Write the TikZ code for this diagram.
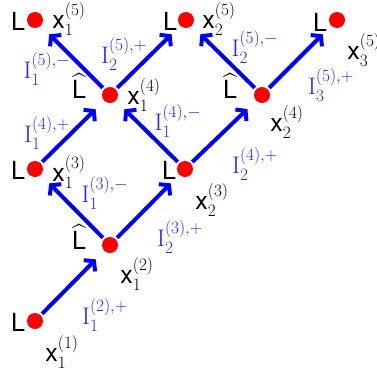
\documentclass[tikz,border=0pt]{standalone}
\usepackage{amsmath}
\usepackage{fontspec}
\newfontfamily\hvf{TeX Gyre Heros}
\usetikzlibrary{arrows.meta}
\definecolor{lblblue}{RGB}{35,35,255}
\newcommand{\hvx}{\text{\hvf x}}
\newcommand{\hvL}{\text{\hvf L}}
\begin{document}
\begin{tikzpicture}[x=1pt,y=-1pt,
  dot/.style={circle,fill=red,inner sep=0pt,minimum size=16pt},
  arr/.style={draw=blue,line width=4pt,-{Straight Barb[length=6.5pt,width=16pt]},shorten <=2pt,shorten >=12pt},
  lab/.style={font=\fontsize{25}{29}\selectfont,inner sep=0pt},
  ilab/.style={font=\fontsize{24}{28}\selectfont,inner sep=0pt,text=lblblue}]
\useasboundingbox (0,0) rectangle (377,375);
% dots
\node[dot] (a11) at (35,321) {};
\node[dot] (a21) at (110,245) {};
\node[dot] (a31) at (35,169) {};
\node[dot] (a32) at (185,169) {};
\node[dot] (a41) at (110,95) {};
\node[dot] (a42) at (262,95) {};
\node[dot] (a51) at (35,20) {};
\node[dot] (a52) at (186,20) {};
\node[dot] (a53) at (337,20) {};
% arrows
\draw[arr] (a11) -- (a21);
\draw[arr] (a21) -- (a31);
\draw[arr] (a21) -- (a32);
\draw[arr] (a31) -- (a41);
\draw[arr] (a32) -- (a41);
\draw[arr] (a32) -- (a42);
\draw[arr] (a41) -- (a51);
\draw[arr] (a41) -- (a52);
\draw[arr] (a42) -- (a52);
\draw[arr] (a42) -- (a53);
% L labels
\node[lab] (l11) at (18,322) {$\hvL$};
\node[lab] (l31) at (18,170) {$\hvL$};
\node[lab] (l32) at (169,170) {$\hvL$};
\node[lab] (l51) at (18,21) {$\hvL$};
\node[lab] (l52) at (170,21) {$\hvL$};
\node[lab] (l53) at (320,22) {$\hvL$};
% hat L labels
\node[lab] (h21) at (79,237) {$\widehat{\hvL}$};
\node[lab] (h41) at (79,86) {$\widehat{\hvL}$};
\node[lab] (h42) at (230,86) {$\widehat{\hvL}$};
% x labels
\node[lab] (x11) at (62,352) {$\hvx_1^{(1)}$};
\node[lab] (x21) at (137,274) {$\hvx_1^{(2)}$};
\node[lab] (x31) at (69,172) {$\hvx_1^{(3)}$};
\node[lab] (x32) at (212,200) {$\hvx_2^{(3)}$};
\node[lab] (x41) at (144,95) {$\hvx_1^{(4)}$};
\node[lab] (x42) at (287,122) {$\hvx_2^{(4)}$};
\node[lab] (x51) at (69,19) {$\hvx_1^{(5)}$};
\node[lab] (x52) at (219,19) {$\hvx_2^{(5)}$};
\node[lab] (x53) at (364,50) {$\hvx_3^{(5)}$};
% I labels
\node[ilab] (i2p1) at (105,315) {$\mathrm{I}_1^{(2),+}$};
\node[ilab] (i3m1) at (105,193) {$\mathrm{I}_1^{(3),-}$};
\node[ilab] (i3p2) at (180,237) {$\mathrm{I}_2^{(3),+}$};
\node[ilab] (i4p1) at (47,133) {$\mathrm{I}_1^{(4),+}$};
\node[ilab] (i4m1) at (178,121) {$\mathrm{I}_1^{(4),-}$};
\node[ilab] (i4p2) at (255,164) {$\mathrm{I}_2^{(4),+}$};
\node[ilab] (i5m1) at (47,69) {$\mathrm{I}_1^{(5),-}$};
\node[ilab] (i5p2) at (124,54) {$\mathrm{I}_2^{(5),+}$};
\node[ilab] (i5m2) at (255,47) {$\mathrm{I}_2^{(5),-}$};
\node[ilab] (i5p3) at (331,85) {$\mathrm{I}_3^{(5),+}$};
\end{tikzpicture}
\end{document}
